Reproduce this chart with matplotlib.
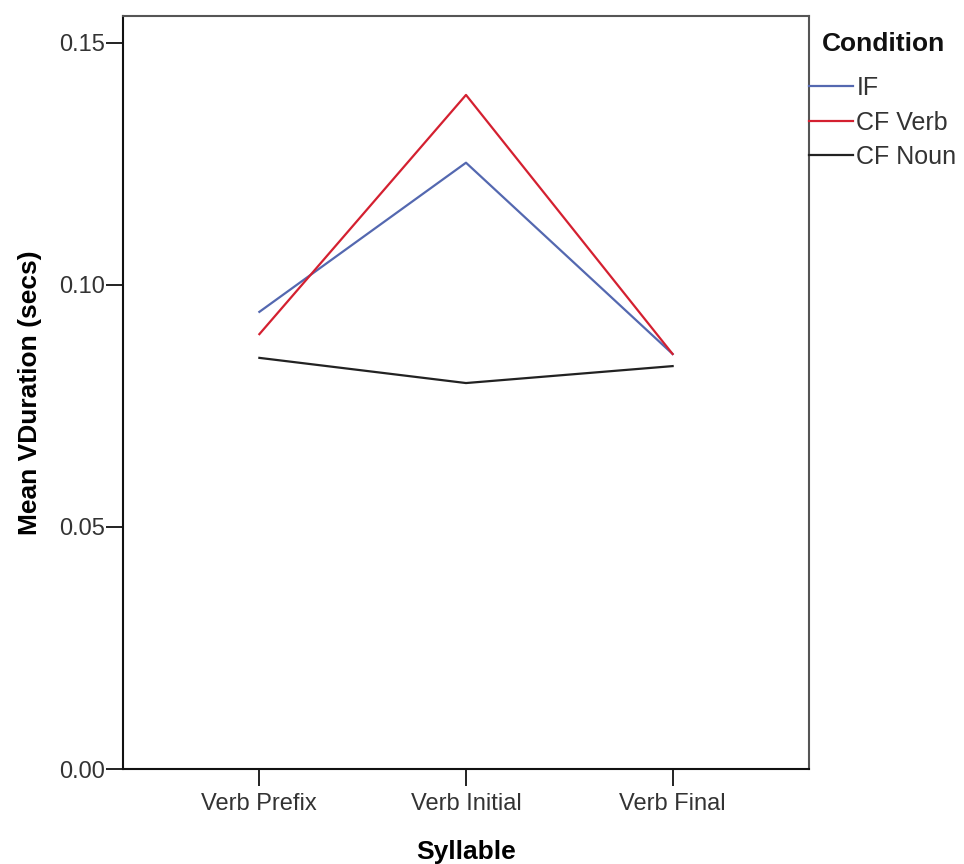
import numpy as np
import matplotlib
matplotlib.use("Agg")
import matplotlib.pyplot as plt

plt.rcParams['font.family'] = ['Liberation Sans', 'DejaVu Sans']

syllables = ["Verb Prefix", "Verb Initial", "Verb Final"]
conditions = ["IF", "CF Verb", "CF Noun"]
if_vals = [0.0944, 0.1252, 0.0857]
cf_verb_vals = [0.0898, 0.1392, 0.0857]
cf_noun_vals = [0.0849, 0.0797, 0.0832]
yticks = [0.00, 0.05, 0.10, 0.15]

series = [if_vals, cf_verb_vals, cf_noun_vals]
colors = ['#5468b0', '#d42030', '#222222']

fig = plt.figure(figsize=(9.64, 8.64), dpi=100)
ax = fig.add_axes([123/964, 1 - 769/864, (809 - 123)/964, (769 - 15.5)/864])

x = np.arange(len(syllables))
for vals, name, c in zip(series, conditions, colors):
    ax.plot(x, vals, color=c, linewidth=1.6, label=name)

ax.set_xlim(-0.66, 2.66)
ax.set_ylim(0, 0.1556)
ax.set_xticks(x)
ax.set_xticklabels(syllables)
ax.set_yticks(yticks)
ax.set_yticklabels(['%.2f' % v for v in yticks])

ax.tick_params(axis='both', direction='out', length=12, width=1.3, color='#111111',
               labelsize=17, labelcolor='#333333')
ax.tick_params(axis='y', pad=1)
ax.tick_params(axis='x', pad=5)

for s in ['left', 'bottom']:
    ax.spines[s].set_color('#111111')
    ax.spines[s].set_linewidth(1.5)
for s in ['top', 'right']:
    ax.spines[s].set_color('#555555')
    ax.spines[s].set_linewidth(1.5)

ax.set_xlabel('Syllable', fontsize=19, fontweight='bold', labelpad=18)
ax.set_ylabel('Mean VDuration (secs)', fontsize=19, fontweight='bold', labelpad=12)

# legend title placed on its own, indented like the original
fig.text(822/964, 1 - 44/864, 'Condition', fontsize=19, fontweight='bold',
         ha='left', va='center', color='#111111')
leg = ax.legend(loc='upper left', bbox_to_anchor=(809/964, 1 - 76/864),
                bbox_transform=fig.transFigure, frameon=False,
                fontsize=18, handlelength=1.75, handletextpad=0.15,
                labelspacing=0.42, borderpad=0, borderaxespad=0)
for t in leg.get_texts():
    t.set_color('#333333')

fig.savefig('out.png', dpi=100)
